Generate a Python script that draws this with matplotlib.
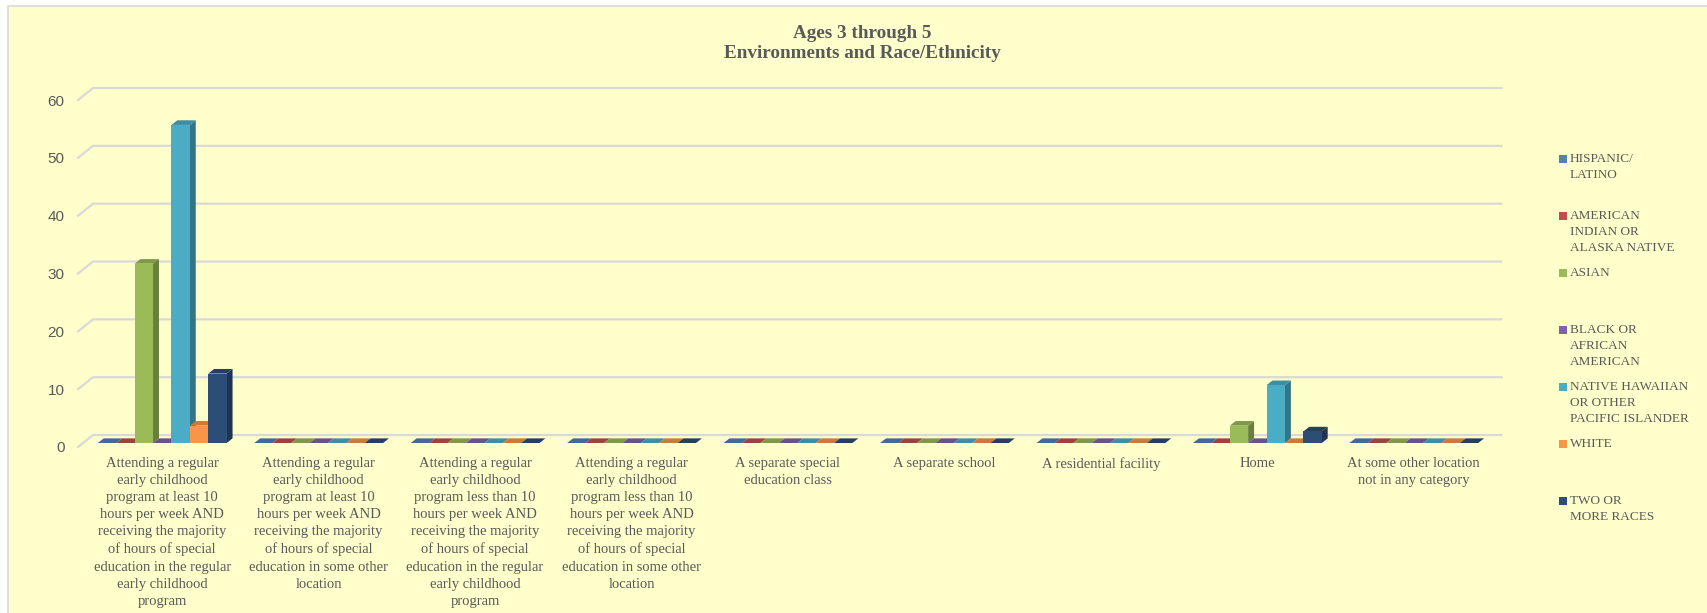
import matplotlib.pyplot as plt
from matplotlib.patches import Polygon, Rectangle
from matplotlib.transforms import ScaledTranslation
import numpy as np

categories = [
    "Attending a regular\nearly childhood\nprogram at least 10\nhours per week AND\nreceiving the majority\nof hours of special\neducation in the regular\nearly childhood\nprogram",
    "Attending a regular\nearly childhood\nprogram at least 10\nhours per week AND\nreceiving the majority\nof hours of special\neducation in some other\nlocation",
    "Attending a regular\nearly childhood\nprogram less than 10\nhours per week AND\nreceiving the majority\nof hours of special\neducation in the regular\nearly childhood\nprogram",
    "Attending a regular\nearly childhood\nprogram less than 10\nhours per week AND\nreceiving the majority\nof hours of special\neducation in some other\nlocation",
    "A separate special\neducation class",
    "A separate school",
    "A residential facility",
    "Home",
    "At some other location\nnot in any category",
]

series_names = [
    "HISPANIC/\nLATINO",
    "AMERICAN\nINDIAN OR\nALASKA NATIVE",
    "ASIAN",
    "BLACK OR\nAFRICAN\nAMERICAN",
    "NATIVE HAWAIIAN\nOR OTHER\nPACIFIC ISLANDER",
    "WHITE",
    "TWO OR\nMORE RACES",
]

hispanic = [0, 0, 0, 0, 0, 0, 0, 0, 0]
am_indian = [0, 0, 0, 0, 0, 0, 0, 0, 0]
asian = [31, 0, 0, 0, 0, 0, 0, 3, 0]
black = [0, 0, 0, 0, 0, 0, 0, 0, 0]
hawaiian = [55, 0, 0, 0, 0, 0, 0, 10, 0]
white = [3, 0, 0, 0, 0, 0, 0, 0, 0]
two_or_more = [12, 0, 0, 0, 0, 0, 0, 2, 0]

colors = ["#4F81BD", "#C0504D", "#9BBB59", "#8064A2", "#4BACC6", "#F79646", "#2C4D75"]

values = [hispanic, am_indian, asian, black, hawaiian, white, two_or_more]

TEXT = "#595959"
BG = "#FFFFCC"
GRID = "#D9D9D9"

fig = plt.figure(figsize=(17.08, 6.13), dpi=100)
fig.patch.set_facecolor("white")
# chart area (slightly inset, like the Excel export)
fig.patches.append(Rectangle((8 / 1708, -0.01), 1.01, 1 - 6 / 613 + 0.01, transform=fig.transFigure,
                             facecolor=BG, edgecolor=GRID, linewidth=1.2, zorder=-5))

ax = fig.add_axes([84 / 1708, 1 - 443 / 613, 1408 / 1708, 347 / 613])
ax.set_xlim(-0.5, 8.5)
ax.set_ylim(0, 60)
ax.patch.set_visible(False)
for s in ax.spines.values():
    s.set_visible(False)

# 3D-ish depth, in data units
dx, dy = 0.038, 0.8
back_dx, back_dy = 0.058, 1.38
front_dx, front_dy = -0.038, -0.69

# wall gridlines
for v in range(0, 61, 10):
    ax.plot([-0.5 + front_dx, -0.5 + back_dx, 8.56], [v + front_dy, v + back_dy, v + back_dy],
            color=GRID, linewidth=1.6, clip_on=False, zorder=1)

n = len(values)
bw = 0.1176
x = np.arange(len(categories))
z = 2
for i in range(len(categories)):
    for j in range(n):
        h = values[j][i]
        x0 = x[i] - n * bw / 2 + j * bw
        x1 = x0 + bw
        c = np.array(plt.matplotlib.colors.to_rgb(colors[j]))
        side = Polygon([(x1, 0), (x1, h), (x1 + dx, h + dy), (x1 + dx, dy)], closed=True,
                       facecolor=c * 0.68, edgecolor="none", zorder=z)
        top = Polygon([(x0, h), (x1, h), (x1 + dx, h + dy), (x0 + dx, h + dy)], closed=True,
                      facecolor=c * 0.82, edgecolor="none", zorder=z)
        ax.add_patch(side)
        ax.add_patch(top)
        ax.bar(x0, h, width=bw, align="edge", color=colors[j], zorder=z + 0.5)
        z += 1

ax.set_yticks(range(0, 61, 10))
ax.tick_params(axis="y", length=0, pad=14, labelsize=11, labelcolor=TEXT)
for lab in ax.get_yticklabels():
    lab.set_fontfamily("Liberation Sans")
    lab.set_transform(lab.get_transform() + ScaledTranslation(0, -0.04, fig.dpi_scale_trans))

ax.set_xticks(x)
ax.set_xticklabels(categories, fontfamily="Liberation Serif", fontsize=10.5, color=TEXT,
                   linespacing=1.41, va="top", ha="center")
ax.tick_params(axis="x", length=0, pad=10)

fig.text(0.505, 1 - 25 / 613, "Ages 3 through 5\nEnvironments and Race/Ethnicity",
         ha="center", va="top", fontsize=13.75, fontweight="bold", family="Liberation Serif",
         color=TEXT, linespacing=1.2)

# legend
for j, name in enumerate(series_names):
    ytop = 1 - (153 + 57 * j) / 613
    fig.patches.append(Rectangle((1559 / 1708, ytop - 10 / 613), 8 / 1708, 8 / 613,
                                 transform=fig.transFigure, facecolor=colors[j], edgecolor="none"))
    fig.text(1570 / 1708, ytop, name, ha="left", va="top", fontsize=9.5,
             family="Liberation Serif", color=TEXT, linespacing=1.45)

fig.savefig("out.png", dpi=100, facecolor=fig.get_facecolor())
